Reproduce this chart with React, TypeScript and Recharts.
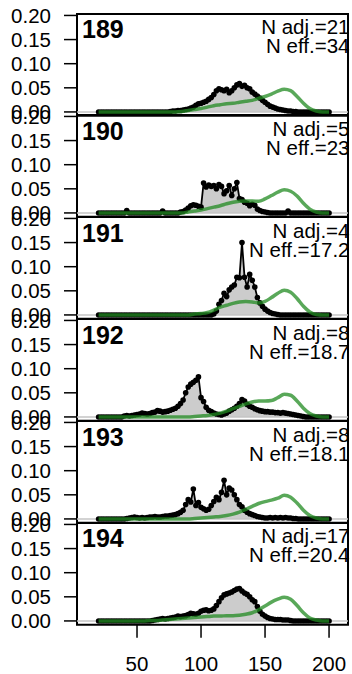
import React from 'react';
import { ComposedChart, Area, Line, XAxis, YAxis, ReferenceLine, ReferenceArea } from 'recharts';

// ---- labels ----
const PANEL_IDS = ['189', '190', '191', '192', '193', '194'];
const N_ADJ = ['21', '5', '4', '8', '8', '17'];
const N_EFF = ['34', '23', '17.2', '18.7', '18.1', '20.4'];
const X_TICKS = [50, 100, 150, 200];
const Y_TICKS = [0, 0.05, 0.1, 0.15, 0.2];

// ---- x grids (observed every 2, reference every 5) ----
const OBS_X = Array.from({ length: 91 }, (_, i) => 20 + 2 * i);
const REF_X = Array.from({ length: 37 }, (_, i) => 20 + 5 * i);

// ---- observed series (x = 20..200 step 2) ----
const OBS_189 = [
  0, 0, 0, 0, 0, 0, 0, 0, 0, 0, 0, 0, 0, 0, 0, 0, 0, 0, 0, 0, 0, 0, 0, 0, 0, 0, 0, 0,
  0.001, 0.002, 0.002, 0.003, 0.003, 0.004, 0.005, 0.006, 0.008, 0.010,
  0.014, 0.017, 0.018, 0.020, 0.022, 0.026, 0.030, 0.036, 0.044, 0.048,
  0.046, 0.044, 0.047, 0.040, 0.044, 0.050, 0.056, 0.059, 0.053, 0.055,
  0.050, 0.048, 0.041, 0.037, 0.033, 0.029, 0.024, 0.020, 0.016, 0.012,
  0.010, 0.008, 0.006, 0.005, 0.004, 0.003, 0.002, 0.002, 0.001, 0.001,
  0, 0, 0, 0, 0, 0, 0, 0, 0, 0, 0, 0, 0,
];
const OBS_190 = [
  0, 0, 0, 0, 0, 0, 0, 0, 0, 0, 0,
  0.005,
  0, 0, 0, 0, 0, 0, 0, 0, 0, 0, 0, 0, 0,
  0.004,
  0, 0, 0, 0, 0, 0,
  0.002, 0.003, 0.006, 0.010, 0.015, 0.017, 0.016, 0.014, 0.012, 0.062,
  0.054, 0.058, 0.055, 0.057, 0.050, 0.059, 0.055, 0.040, 0.046, 0.057,
  0.036, 0.050, 0.063, 0.030, 0.028, 0.022, 0.020, 0.015, 0.018, 0.016,
  0.008, 0.005, 0.003, 0.002, 0.001,
  0, 0, 0, 0, 0, 0, 0,
  0.004,
  0, 0, 0, 0, 0, 0, 0, 0, 0, 0, 0, 0, 0, 0, 0, 0,
];
const OBS_191 = [
  0, 0, 0, 0, 0, 0, 0, 0, 0, 0, 0, 0, 0, 0, 0, 0, 0, 0, 0, 0, 0, 0, 0, 0, 0, 0, 0, 0, 0, 0,
  0, 0, 0, 0, 0, 0, 0, 0, 0, 0, 0, 0, 0, 0, 0,
  0.002, 0.008, 0.022, 0.030, 0.045, 0.038, 0.052, 0.058, 0.062, 0.078,
  0.077, 0.150, 0.078, 0.058, 0.084, 0.072, 0.058, 0.036, 0.025, 0.018,
  0.012, 0.008, 0.005, 0.003, 0.002, 0.001,
  0, 0, 0, 0, 0, 0, 0, 0, 0, 0, 0, 0, 0, 0, 0, 0, 0, 0, 0, 0,
];
const OBS_192 = [
  0, 0, 0, 0, 0, 0, 0, 0, 0, 0,
  0.002, 0.003, 0.002, 0.003, 0.004, 0.005, 0.006, 0.008, 0.007, 0.006,
  0.007, 0.009, 0.010, 0.013, 0.012, 0.010, 0.011, 0.012, 0.014, 0.016,
  0.018, 0.022, 0.028, 0.035, 0.050, 0.062, 0.068, 0.072, 0.076, 0.083,
  0.040, 0.032, 0.020, 0.014, 0.011, 0.008, 0.006, 0.005, 0.004, 0.006,
  0.008, 0.012, 0.015, 0.018, 0.022, 0.028, 0.036, 0.033, 0.026, 0.022,
  0.020, 0.017, 0.015, 0.013, 0.012, 0.011, 0.011, 0.010, 0.010, 0.009,
  0.009, 0.008, 0.009, 0.008, 0.007, 0.006, 0.005, 0.004, 0.003, 0.002,
  0.001,
  0, 0, 0, 0, 0, 0, 0, 0, 0, 0,
];
const OBS_193 = [
  0, 0, 0, 0, 0, 0, 0, 0, 0, 0, 0,
  0.001, 0.002, 0.003, 0.004, 0.003, 0.002, 0.003, 0.002, 0.003, 0.004,
  0.004, 0.005, 0.004, 0.004, 0.005, 0.006, 0.006, 0.007, 0.008, 0.009,
  0.011, 0.014, 0.018, 0.030, 0.040, 0.035, 0.062, 0.028, 0.034, 0.024,
  0.021, 0.018, 0.020, 0.028, 0.036, 0.045, 0.040, 0.055, 0.080, 0.050,
  0.064, 0.060, 0.050, 0.040, 0.030, 0.025, 0.018, 0.014, 0.011, 0.009,
  0.007, 0.005, 0.004, 0.003, 0.002, 0.002, 0.003, 0.002, 0.003, 0.002,
  0.003, 0.002, 0.003, 0.002, 0.002, 0.001, 0.001,
  0, 0, 0, 0, 0, 0, 0, 0, 0, 0, 0, 0, 0,
];
const OBS_194 = [
  0, 0, 0, 0, 0, 0, 0, 0, 0, 0, 0, 0, 0, 0, 0, 0, 0, 0, 0, 0, 0,
  0.001, 0.002, 0.003, 0.004, 0.005, 0.004, 0.005, 0.006, 0.007, 0.008,
  0.010, 0.009, 0.010, 0.011, 0.013, 0.016, 0.015, 0.014, 0.016, 0.020,
  0.022, 0.023, 0.021, 0.022, 0.025, 0.032, 0.040, 0.048, 0.054, 0.056,
  0.058, 0.060, 0.063, 0.066, 0.067, 0.062, 0.058, 0.055, 0.050, 0.044,
  0.040, 0.030, 0.020, 0.014, 0.010, 0.007, 0.005, 0.004, 0.003, 0.003,
  0.003, 0.002, 0.002, 0.002, 0.001,
  0, 0, 0, 0, 0, 0, 0, 0, 0, 0, 0, 0, 0, 0, 0,
];

// ---- reference (green) curves (x = 20..200 step 5) ----
const REF_189 = [
  0, 0, 0, 0, 0, 0, 0, 0, 0, 0, 0, 0, 0,
  0.001, 0.003, 0.005, 0.007, 0.010, 0.013, 0.015, 0.017, 0.018, 0.020, 0.022,
  0.024, 0.028, 0.032, 0.037, 0.043, 0.047, 0.044, 0.032, 0.018, 0.007, 0.002,
  0, 0,
];
const REF_190 = [
  0, 0, 0, 0, 0, 0, 0, 0, 0, 0, 0, 0, 0, 0,
  0.002, 0.004, 0.006, 0.009, 0.012, 0.015, 0.019, 0.022, 0.024, 0.025, 0.025,
  0.024, 0.029, 0.036, 0.043, 0.048, 0.045, 0.035, 0.020, 0.008, 0.002,
  0, 0,
];
const REF_191 = [
  0, 0, 0, 0, 0, 0, 0, 0, 0, 0, 0, 0, 0, 0, 0,
  0.002, 0.003, 0.005, 0.010, 0.016, 0.020, 0.024, 0.027, 0.028, 0.027,
  0.025, 0.028, 0.036, 0.045, 0.051, 0.047, 0.034, 0.018, 0.006, 0.001,
  0, 0,
];
const REF_192 = [
  0, 0, 0, 0, 0, 0, 0, 0, 0, 0, 0, 0, 0, 0, 0,
  0.001, 0.002, 0.003, 0.005, 0.008, 0.012, 0.017, 0.022, 0.027, 0.031,
  0.033, 0.033, 0.034, 0.040, 0.047, 0.045, 0.033, 0.018, 0.007, 0.002,
  0, 0,
];
const REF_193 = [
  0, 0, 0, 0, 0, 0, 0, 0, 0, 0, 0, 0, 0, 0, 0,
  0.001, 0.002, 0.003, 0.004, 0.005, 0.007, 0.010, 0.014, 0.020, 0.026,
  0.032, 0.036, 0.039, 0.043, 0.049, 0.045, 0.033, 0.018, 0.007, 0.002,
  0, 0,
];
const REF_194 = [
  0, 0, 0, 0, 0, 0, 0, 0,
  0.001, 0.001, 0.002, 0.003, 0.004, 0.005, 0.006, 0.007, 0.008, 0.009,
  0.010, 0.010, 0.011, 0.011, 0.012, 0.014, 0.017, 0.023, 0.031, 0.039,
  0.045, 0.049, 0.045, 0.032, 0.017, 0.006, 0.002,
  0, 0,
];

const OBS = [OBS_189, OBS_190, OBS_191, OBS_192, OBS_193, OBS_194];
const REF = [REF_189, REF_190, REF_191, REF_192, REF_193, REF_194];

// ---- layout ----
const FONT = '"Liberation Sans", Arial, Helvetica, sans-serif';
const TOP0 = 13.5;
const PANEL_H = 101.8;
const PAD = 14;
const X_AXIS_H = 52;
const X_DOMAIN: [number, number] = [3.125, 214.8];
const Y_DOMAIN: [number, number] = [-0.008, 0.203];

function Panel({ k }: { k: number }) {
  const last = k === PANEL_IDS.length - 1;
  const obsData = OBS_X.map((x, i) => ({ x, y: OBS[k][i] }));
  const refData = REF_X.map((x, i) => ({ x, g: REF[k][i] }));
  const top = TOP0 + k * PANEL_H - PAD;
  const height = PAD + PANEL_H + (last ? X_AXIS_H : PAD);
  const lineProps: any = { zIndex: 1500 };
  return (
    <div style={{ position: 'absolute', left: 0, top, width: 352, height }}>
      <ComposedChart
        width={352}
        height={height}
        margin={{ top: PAD, right: 4, bottom: last ? 0 : PAD, left: 0 }}
      >
        <XAxis
          dataKey="x"
          type="number"
          domain={X_DOMAIN}
          allowDataOverflow
          ticks={X_TICKS}
          interval={0}
          hide={!last}
          height={X_AXIS_H}
          tickSize={13}
          tickMargin={19}
          axisLine={false}
          tickLine={{ stroke: '#000', strokeWidth: 1.5 }}
          tick={{ fill: '#000', fontSize: 20.5, fontFamily: FONT }}
        />
        <YAxis
          type="number"
          domain={Y_DOMAIN}
          allowDataOverflow
          ticks={Y_TICKS}
          interval={0}
          width={77}
          tickSize={13}
          tickMargin={13}
          axisLine={false}
          tickLine={{ stroke: '#000', strokeWidth: 1.5 }}
          tick={{ fill: '#000', fontSize: 20.5, fontFamily: FONT }}
          tickFormatter={(v: number) => v.toFixed(2)}
        />
        <ReferenceLine y={0} stroke="#c4c4c4" strokeWidth={1.5} ifOverflow="visible" />
        <Area
          data={obsData}
          dataKey="y"
          type="linear"
          baseValue={0}
          stroke="#000"
          strokeWidth={1.8}
          fill="#cccccc"
          fillOpacity={1}
          dot={{ r: 2.8, fill: '#000', stroke: '#000', strokeWidth: 0 }}
          activeDot={false}
          isAnimationActive={false}
        />
        <Line
          {...lineProps}
          data={refData}
          dataKey="g"
          type="monotone"
          stroke="rgb(34,139,34)"
          strokeOpacity={0.75}
          strokeWidth={3.5}
          dot={false}
          activeDot={false}
          isAnimationActive={false}
        />
        <ReferenceArea
          x1={X_DOMAIN[0]}
          x2={X_DOMAIN[1]}
          y1={Y_DOMAIN[0]}
          y2={Y_DOMAIN[1]}
          fill="none"
          fillOpacity={0}
          stroke="#000"
          strokeWidth={2}
          ifOverflow="visible"
        />
      </ComposedChart>
    </div>
  );
}

export default function App() {
  return (
    <div style={{ position: 'absolute', left: 0, top: 0, width: 352, height: 674, background: '#fff', overflow: 'hidden' }}>
      {PANEL_IDS.map((_, k) => (
        <Panel key={k} k={k} />
      ))}
      <svg width={352} height={674} style={{ position: 'absolute', left: 0, top: 0, pointerEvents: 'none' }}>
        {PANEL_IDS.map((id, k) => {
          const t = TOP0 + k * PANEL_H;
          return (
            <g key={id} fontFamily={FONT} fill="#000">
              <text x={82} y={t + 24.8} fontSize={25} fontWeight="bold">{id}</text>
              <text x={349.5} y={t + 20.8} fontSize={20.5} textAnchor="end">{`N adj.=${N_ADJ[k]}`}</text>
              <text x={349.5} y={t + 39.8} fontSize={20.5} textAnchor="end">{`N eff.=${N_EFF[k]}`}</text>
            </g>
          );
        })}
      </svg>
    </div>
  );
}
